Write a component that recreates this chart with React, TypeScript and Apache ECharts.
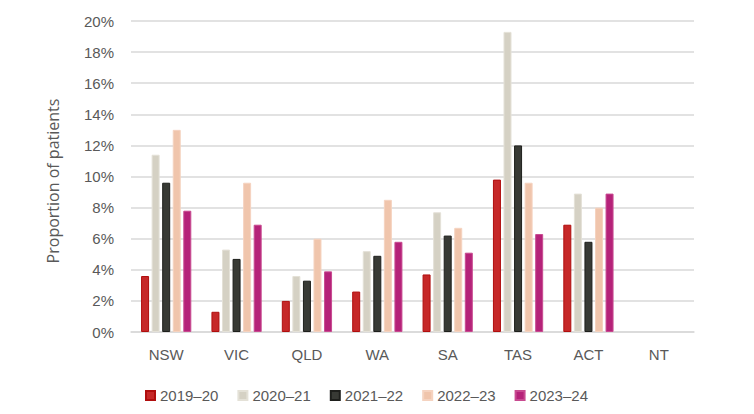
import React, { useEffect, useRef } from "react";
import * as echarts from "echarts";

const categories = ["NSW", "VIC", "QLD", "WA", "SA", "TAS", "ACT", "NT"];
const seriesNames = ["2019–20", "2020–21", "2021–22", "2022–23", "2023–24"];
const s2019 = [3.6, 1.3, 2.0, 2.6, 3.7, 9.8, 6.9, null];
const s2020 = [11.4, 5.3, 3.6, 5.2, 7.7, 19.3, 8.9, null];
const s2021 = [9.6, 4.7, 3.3, 4.9, 6.2, 12.0, 5.8, null];
const s2022 = [13.0, 9.6, 6.0, 8.5, 6.7, 9.6, 8.0, null];
const s2023 = [7.8, 6.9, 3.9, 5.8, 5.1, 6.3, 8.9, null];
const seriesValues = [s2019, s2020, s2021, s2022, s2023];
const fills = ["#C62828", "#D5D1C4", "#383A35", "#F0C5AC", "#B52279"];
const borders = ["#B00E0E", "#E4E1D7", "#1E1F1C", "#F5D3C0", "#C84A90"];

export default function App() {
  const ref = useRef<HTMLDivElement>(null);
  useEffect(() => {
    if (!ref.current) return;
    const chart = echarts.init(ref.current, null, { renderer: "svg" });
    const font = "'Liberation Sans', Arial, sans-serif";
    chart.setOption({
      animation: false,
      textStyle: { fontFamily: font },
      grid: { left: 131, right: 60, top: 21, bottom: 82, containLabel: false },
      legend: {
        bottom: 6,
        left: 140,
        icon: "rect",
        itemWidth: 9,
        itemHeight: 9,
        itemGap: 19,
        textStyle: { fontSize: 15, color: "#595959", fontFamily: font },
        data: seriesNames,
      },
      xAxis: {
        type: "category",
        data: categories,
        axisLine: { show: true, lineStyle: { color: "#D9D9D9", width: 1.5 } },
        axisTick: { show: false },
        axisLabel: { color: "#595959", fontSize: 15, margin: 15, fontFamily: font },
      },
      yAxis: {
        type: "value",
        min: 0,
        max: 20,
        interval: 2,
        axisLine: { show: false },
        axisTick: { show: false },
        axisLabel: { color: "#595959", fontSize: 15, margin: 17, formatter: "{value}%", fontFamily: font },
        splitLine: { lineStyle: { color: "#D9D9D9", width: 1.5 } },
      },
      graphic: [
        {
          type: "text",
          x: 53,
          y: 181,
          rotation: Math.PI / 2,
          style: {
            text: "Proportion of patients",
            fill: "#595959",
            fontSize: 16,
            fontFamily: "'Open Sans', 'Liberation Sans', sans-serif",
            align: "center",
            verticalAlign: "middle",
          },
        },
      ],
      series: seriesNames.map((name, i) => ({
        name,
        type: "bar",
        data: seriesValues[i],
        barWidth: 8,
        barGap: "32%",
        itemStyle: { color: fills[i], borderColor: borders[i], borderWidth: 1 },
      })),
    });
    return () => chart.dispose();
  }, []);
  return <div ref={ref} style={{ position: "absolute", left: 0, top: 0, width: 754, height: 414 }} />;
}
